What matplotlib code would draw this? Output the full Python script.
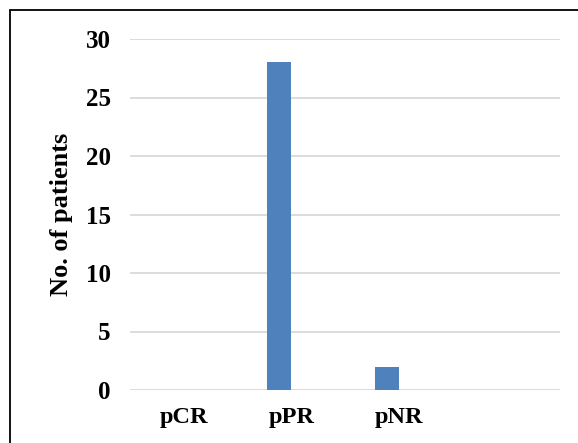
import matplotlib
matplotlib.use("Agg")
import matplotlib.pyplot as plt
from matplotlib.patches import Rectangle
import numpy as np

categories = ["pCR", "pPR", "pNR", ""]
patients = [0, 28, 2, 0]
y_ticks = [0, 5, 10, 15, 20, 25, 30]

plt.rcParams["font.family"] = ["Liberation Serif", "DejaVu Serif"]
plt.rcParams["font.weight"] = "bold"

W, H = 578, 443
fig = plt.figure(figsize=(W / 100, H / 100), dpi=100)
ax = fig.add_axes([130 / W, 1 - 390 / H, 430 / W, 351 / H])

x = np.arange(len(categories))
bar_w = 24 / 108
ax.bar(x - bar_w / 2, patients, width=bar_w, color="#4f81bd", zorder=3)

ax.set_xlim(-0.5, len(categories) - 0.5)
ax.set_ylim(0, 30)
ax.set_yticks(y_ticks)
ax.set_xticks(x)
ax.set_xticklabels(categories)
ax.yaxis.grid(True, color="#d9d9d9", linewidth=1.3, zorder=0)
ax.set_axisbelow(True)
for s in ax.spines.values():
    s.set_visible(False)
ax.tick_params(axis="y", length=0, labelsize=18, pad=14)
ax.tick_params(axis="x", length=0, labelsize=17.5, pad=12)
for lbl in ax.get_xticklabels() + ax.get_yticklabels():
    lbl.set_fontweight("bold")

ax.set_ylabel("No. of patients", fontsize=19, fontweight="bold")
ax.yaxis.set_label_coords((73 - 130) / 430, 0.5)

# outer frame around the chart
fig.patches.append(Rectangle((10 / W, -0.1), 1.2, 1 - 10 / H + 0.1,
                             transform=fig.transFigure, fill=False,
                             edgecolor="black", linewidth=1.3))

fig.savefig("out.png", dpi=100, facecolor="white")
